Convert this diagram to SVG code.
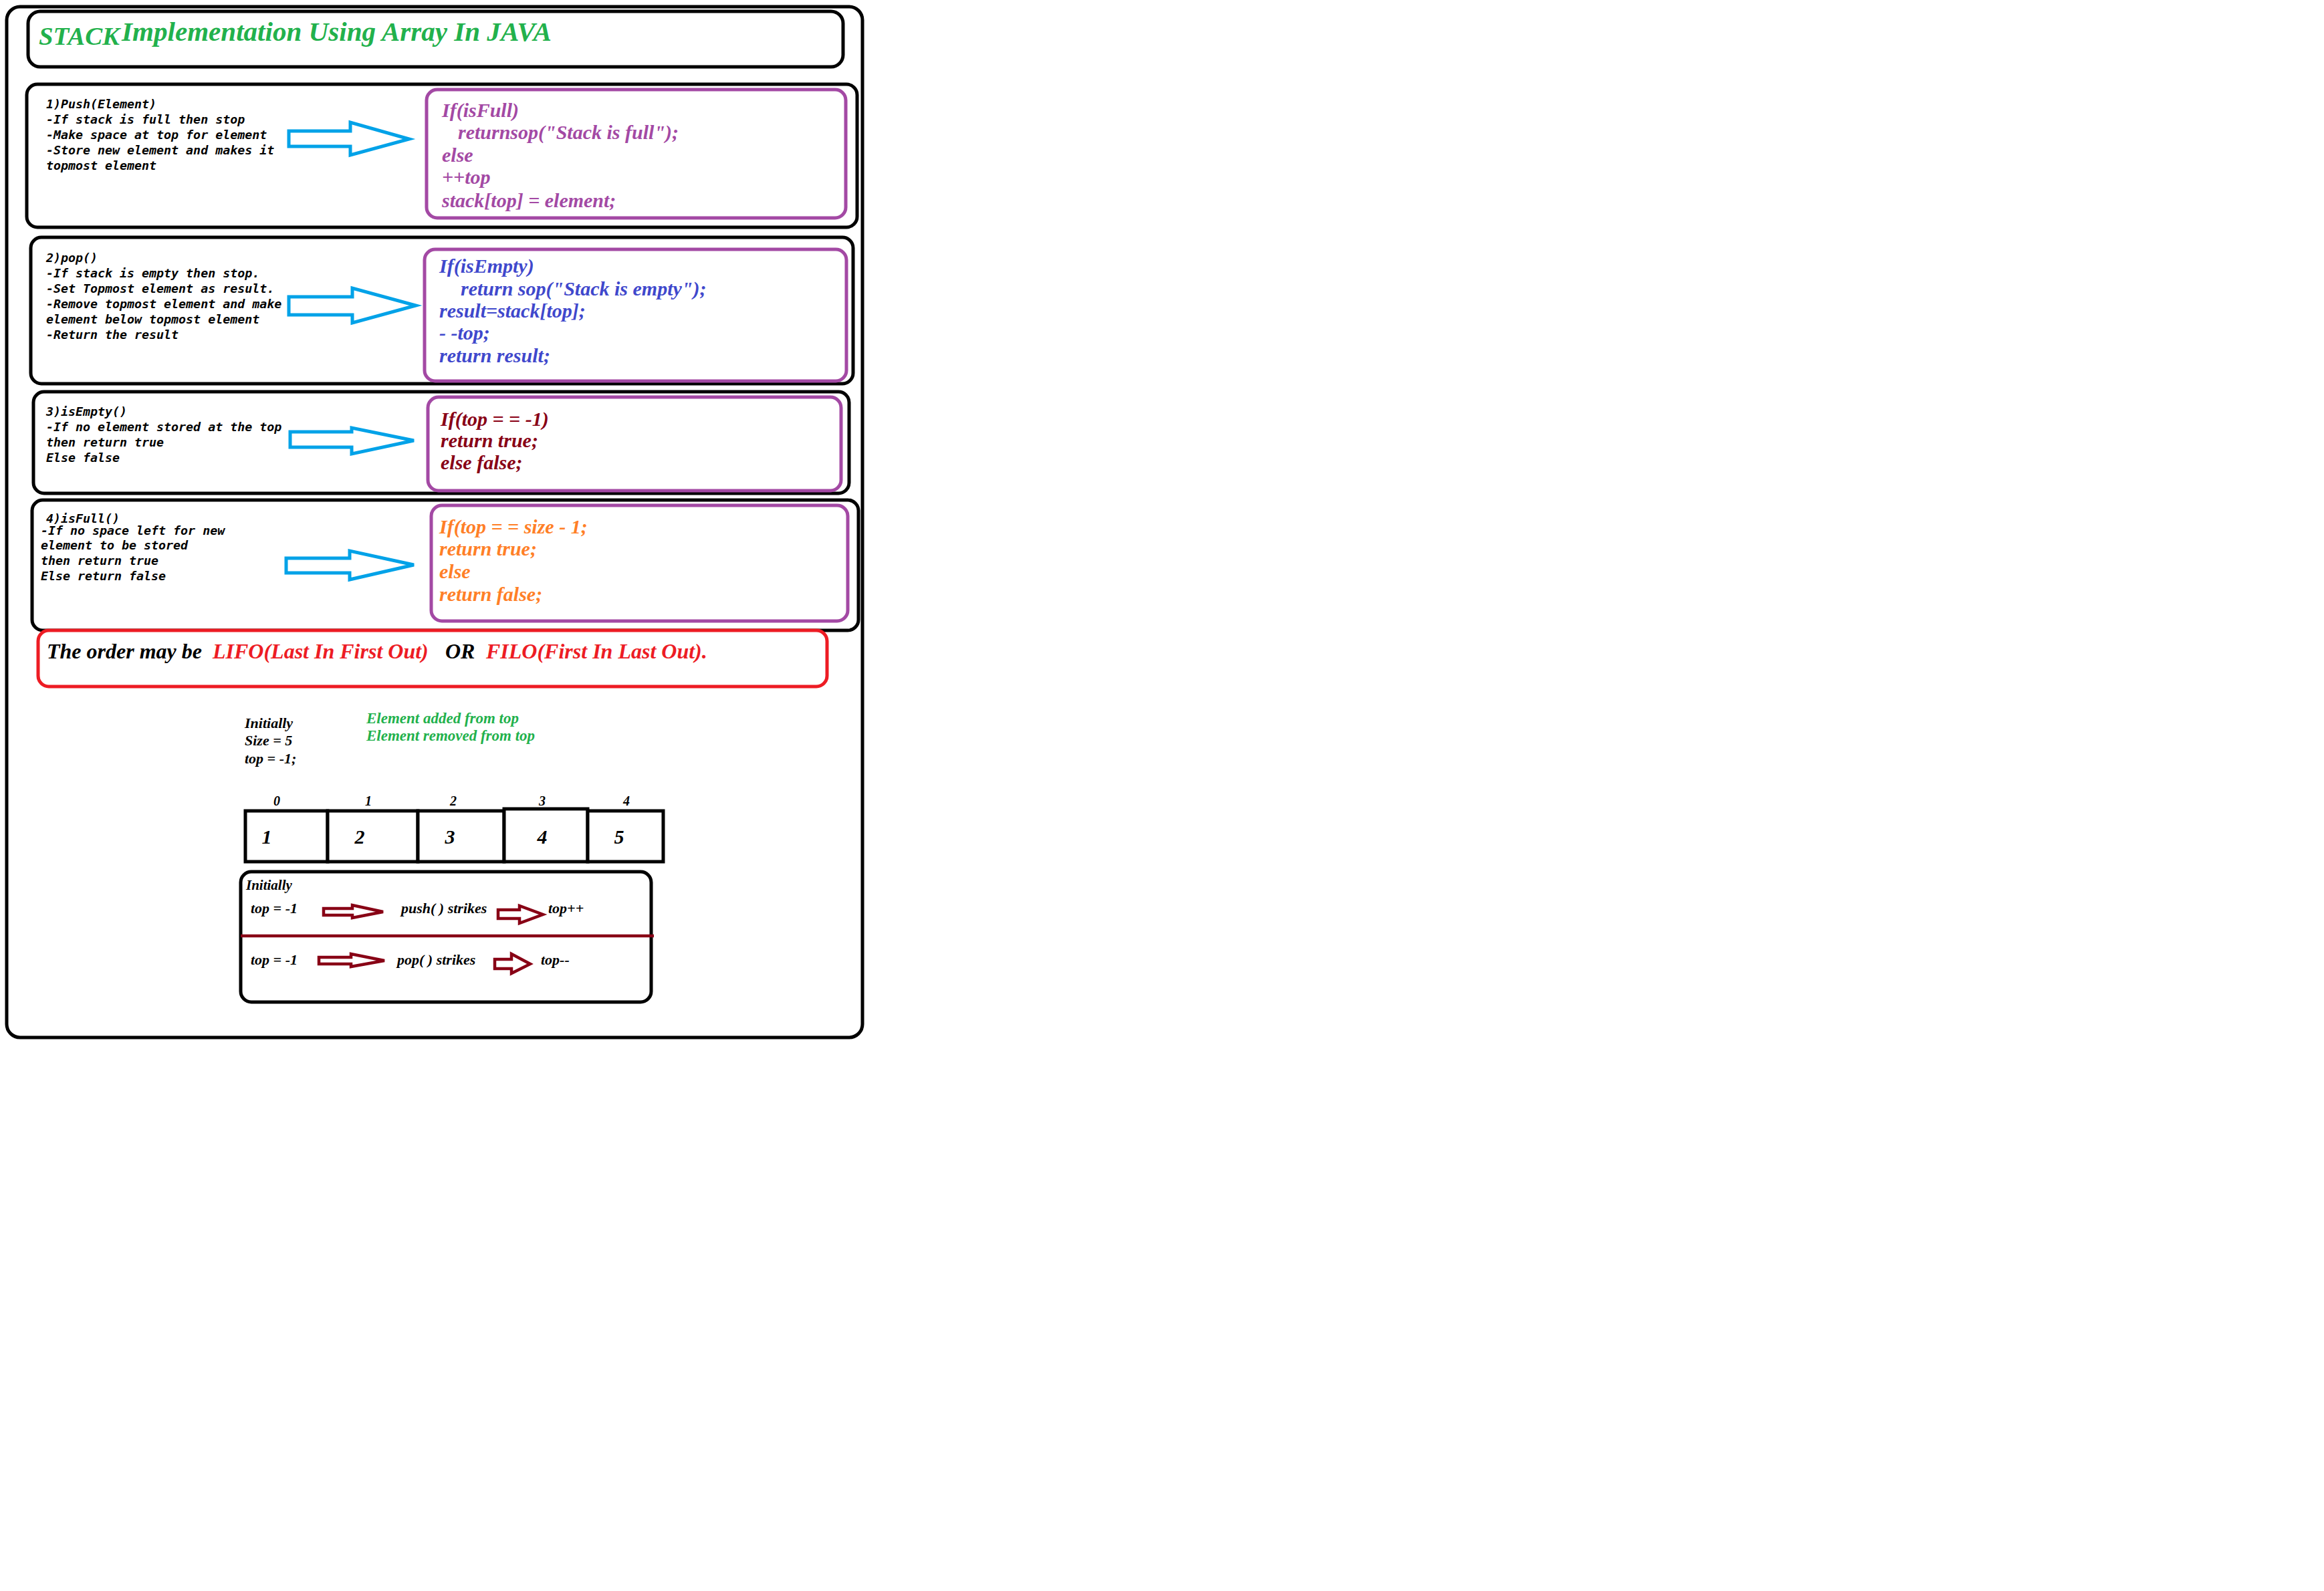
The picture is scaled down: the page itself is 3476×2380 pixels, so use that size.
<svg xmlns="http://www.w3.org/2000/svg" width="3476" height="2380" viewBox="0 0 3476 2380">
  <style>
    .frame { fill: #ffffff; stroke: #000000; stroke-width: 5; }
    .code-box { fill: #ffffff; stroke: #A349A4; stroke-width: 5; }
    .mono { font-family: "DejaVu Sans Mono", "Liberation Mono", monospace; font-weight: bold; font-style: italic; font-size: 18.3px; fill: #000000; }
    .serif { font-family: "Liberation Serif", "Times New Roman", serif; font-weight: bold; font-style: italic; }
    .code { font-size: 30px; }
    .blue-arrow { fill: #ffffff; stroke: #00A2E8; stroke-width: 5; stroke-linejoin: miter; }
    .red-arrow { fill: #ffffff; stroke: #880015; stroke-width: 4.5; stroke-linejoin: miter; }
    .cell { fill: #ffffff; stroke: #000000; stroke-width: 5; }
  </style>

  <rect width="3476" height="2380" fill="#ffffff"/>

  <!-- outer frame -->
  <rect id="outer-frame" class="frame" x="10" y="10" width="1280" height="1542" rx="20" stroke-width="4.5"/>

  <!-- title -->
  <g id="title">
    <rect class="frame" x="42" y="17" width="1219" height="83" rx="18"/>
    <text class="serif" x="58" y="67" font-size="38" fill="#22B14C" textLength="121" lengthAdjust="spacingAndGlyphs">STACK</text>
    <text class="serif" x="182" y="61" font-size="41" fill="#22B14C" textLength="643" lengthAdjust="spacingAndGlyphs">Implementation Using Array In JAVA</text>
  </g>

  <!-- 1) push -->
  <g id="push">
    <rect class="frame" x="40" y="126" width="1242" height="214" rx="16"/>
    <text class="mono" x="69" y="162">1)Push(Element)</text>
    <text class="mono" x="69" y="185">-If stack is full then stop</text>
    <text class="mono" x="69" y="208">-Make space at top for element</text>
    <text class="mono" x="69" y="231">-Store new element and makes it</text>
    <text class="mono" x="69" y="254">topmost element</text>
  </g>
  <g id="push-code">
    <rect class="code-box" x="638" y="134" width="627" height="192" rx="16"/>
    <g class="serif code" fill="#A349A4">
      <text x="661" y="175">If(isFull)</text>
      <text x="685" y="208">returnsop("Stack is full");</text>
      <text x="661" y="242">else</text>
      <text x="661" y="275">++top</text>
      <text x="661" y="310">stack[top] = element;</text>
    </g>
  </g>

  <!-- 2) pop -->
  <g id="pop">
    <rect class="frame" x="46" y="355" width="1230" height="219" rx="16"/>
    <text class="mono" x="69" y="392">2)pop()</text>
    <text class="mono" x="69" y="415">-If stack is empty then stop.</text>
    <text class="mono" x="69" y="438">-Set Topmost element as result.</text>
    <text class="mono" x="69" y="461">-Remove topmost element and make</text>
    <text class="mono" x="69" y="484">element below topmost element</text>
    <text class="mono" x="69" y="507">-Return the result</text>
  </g>
  <g id="pop-code">
    <rect class="code-box" x="635" y="373" width="631" height="197" rx="16"/>
    <g class="serif code" fill="#3F48CC">
      <text x="657" y="408">If(isEmpty)</text>
      <text x="689" y="442">return sop("Stack is empty");</text>
      <text x="657" y="475">result=stack[top];</text>
      <text x="657" y="508">- -top;</text>
      <text x="657" y="542">return result;</text>
    </g>
  </g>

  <!-- 3) isEmpty -->
  <g id="is-empty">
    <rect class="frame" x="50" y="586" width="1220" height="152" rx="16"/>
    <text class="mono" x="69" y="622">3)isEmpty()</text>
    <text class="mono" x="69" y="645">-If no element stored at the top</text>
    <text class="mono" x="69" y="668">then return true</text>
    <text class="mono" x="69" y="691">Else false</text>
  </g>
  <g id="is-empty-code">
    <rect class="code-box" x="640" y="594" width="618" height="140" rx="16"/>
    <g class="serif code" fill="#880015">
      <text x="659" y="637">If(top = = -1)</text>
      <text x="659" y="669">return true;</text>
      <text x="659" y="702">else false;</text>
    </g>
  </g>

  <!-- 4) isFull -->
  <g id="is-full">
    <rect class="frame" x="48" y="748" width="1236" height="195" rx="16"/>
    <text class="mono" x="69" y="782">4)isFull()</text>
    <text class="mono" x="61" y="800">-If no space left for new</text>
    <text class="mono" x="61" y="822">element to be stored</text>
    <text class="mono" x="61" y="845">then return true</text>
    <text class="mono" x="61" y="868">Else return false</text>
  </g>
  <g id="is-full-code">
    <rect class="code-box" x="645" y="756" width="623" height="173" rx="16"/>
    <g class="serif code" fill="#FF7F27">
      <text x="657" y="798">If(top = = size - 1;</text>
      <text x="657" y="831">return true;</text>
      <text x="657" y="865">else</text>
      <text x="657" y="899">return false;</text>
    </g>
  </g>

  <!-- order note -->
  <g id="order-note">
    <rect x="57" y="943" width="1180" height="84" rx="16" fill="#ffffff" stroke="#ED1C24" stroke-width="5"/>
    <text class="serif" y="985" font-size="32">
      <tspan x="70" fill="#000000">The order may be</tspan>
      <tspan x="318" fill="#ED1C24">LIFO(Last In First Out)</tspan>
      <tspan x="666" fill="#000000">OR</tspan>
      <tspan x="727" fill="#ED1C24">FILO(First In Last Out).</tspan>
    </text>
  </g>

  <!-- initial state -->
  <g id="initial-state" class="serif" font-size="22" fill="#000000">
    <text x="366" y="1089">Initially</text>
    <text x="366" y="1115">Size = 5</text>
    <text x="366" y="1142">top = -1;</text>
  </g>
  <g id="direction-note" class="serif" font-size="23" fill="#22B14C">
    <text x="548" y="1082" textLength="228" lengthAdjust="spacingAndGlyphs">Element added from top</text>
    <text x="548" y="1108" textLength="252" lengthAdjust="spacingAndGlyphs">Element removed from top</text>
  </g>

  <!-- array -->
  <g id="array">
    <g class="serif" font-size="20" fill="#000000" text-anchor="middle">
      <text x="414" y="1205">0</text>
      <text x="551" y="1205">1</text>
      <text x="678" y="1205">2</text>
      <text x="811" y="1205">3</text>
      <text x="937" y="1205">4</text>
    </g>
    <rect class="cell" x="367" y="1213" width="123" height="76"/>
    <rect class="cell" x="490" y="1213" width="135" height="76"/>
    <rect class="cell" x="625" y="1213" width="129" height="76"/>
    <rect class="cell" x="754" y="1210" width="125" height="79"/>
    <rect class="cell" x="879" y="1213" width="113" height="76"/>
    <g class="serif" font-size="30" fill="#000000" text-anchor="middle">
      <text x="399" y="1262">1</text>
      <text x="538" y="1262">2</text>
      <text x="673" y="1262">3</text>
      <text x="811" y="1262">4</text>
      <text x="926" y="1262">5</text>
    </g>
  </g>

  <!-- top pointer table -->
  <g id="pointer-table">
    <rect class="frame" x="360" y="1304" width="614" height="195" rx="16" stroke-width="4.5"/>
    <line x1="360" y1="1400" x2="978" y2="1400" stroke="#880015" stroke-width="4.5"/>
    <g class="serif" font-size="22" fill="#000000">
      <text x="368" y="1331" font-size="21">Initially</text>
      <text x="375" y="1366">top = -1</text>
      <text x="600" y="1366">push( ) strikes</text>
      <text x="820" y="1366">top++</text>
      <text x="375" y="1443">top = -1</text>
      <text x="594" y="1443">pop( ) strikes</text>
      <text x="809" y="1443">top--</text>
    </g>
  </g>

  <!-- connectors -->
  <g id="connectors">
    <polygon class="blue-arrow" points="432,196 524,196 524,183 612,208 524,232 524,219 432,219"/>
    <polygon class="blue-arrow" points="432,444 527,444 527,431 622,457 527,483 527,471 432,471"/>
    <polygon class="blue-arrow" points="434,646 526,646 526,640 619,659 526,679 526,669 434,669"/>
    <polygon class="blue-arrow" points="428,835 523,835 523,824 619,845 523,867 523,857 428,857"/>
    <polygon class="red-arrow" points="484,1359 527,1359 527,1354 573,1364 527,1373 527,1369 484,1369"/>
    <polygon class="red-arrow" points="745,1361 777,1361 777,1355 812,1368 777,1381 777,1374 745,1374"/>
    <polygon class="red-arrow" points="477,1432 525,1432 525,1427 575,1437 525,1446 525,1442 477,1442"/>
    <polygon class="red-arrow" points="740,1435 765,1435 765,1427 793,1442 765,1456 765,1449 740,1449"/>
  </g>
</svg>
